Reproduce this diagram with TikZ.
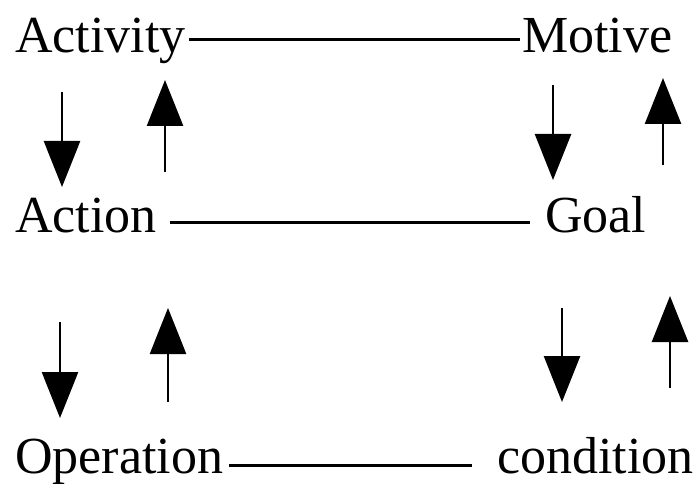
\documentclass[tikz,border=0pt]{standalone}
\usepackage{fontspec}
\setmainfont{Liberation Serif}
\usetikzlibrary{arrows.meta}
\tikzset{>={Triangle[width=36pt, length=46pt]}}
\tikzset{lbl/.style={anchor=base west, inner sep=0pt, font=\fontsize{52}{60}\selectfont},
  link/.style={line width=3pt},
  vert/.style={->, line width=2.6pt}}

\begin{document}
\begin{tikzpicture}[x=1pt, y=-1pt]
\useasboundingbox (0,0) rectangle (693,484);
\node[lbl] (act) at (15,53) {Activity};
\node[lbl] (mot) at (522,53) {Motive};
\node[lbl] (acn) at (15,232) {Action};
\node[lbl] (goal) at (545,232) {Goal};
\node[lbl] (op) at (15,473) {Operation};
\node[lbl] (cond) at (497,473) {condition};
% horizontal links
\draw[link] ([xshift=3pt, yshift=13pt]act.base east) -- ([xshift=-2pt, yshift=13pt]mot.base west);
\draw[link] ([xshift=13pt, yshift=10pt]acn.base east) -- ([xshift=-15pt, yshift=10pt]goal.base west);
\draw[link] ([xshift=6pt, yshift=8pt]op.base east) -- ([xshift=-25pt, yshift=8pt]cond.base west);
% up and down arrows
\draw[vert] (62,92) -- (62,187);
\draw[vert] (165,172) -- (165,80);
\draw[vert] (553,85) -- (553,180);
\draw[vert] (663,165) -- (663,78);
\draw[vert] (60,322) -- (60,418);
\draw[vert] (168,402) -- (168,308);
\draw[vert] (562,308) -- (562,402);
\draw[vert] (670,388) -- (670,296);
\end{tikzpicture}
\end{document}
